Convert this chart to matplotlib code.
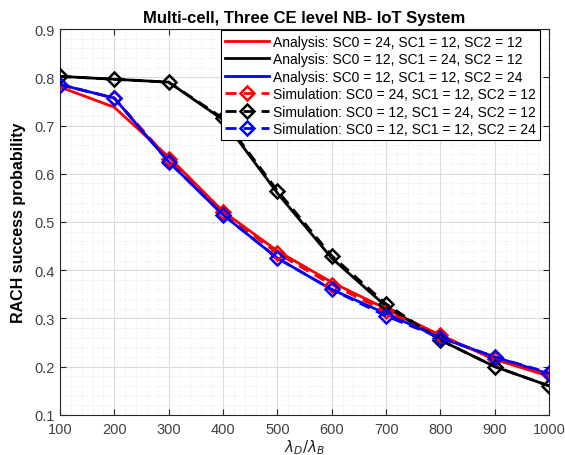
import matplotlib
matplotlib.use("Agg")
import matplotlib.pyplot as plt
from matplotlib.ticker import MultipleLocator, FuncFormatter

plt.rcParams['font.family'] = ['Liberation Sans', 'DejaVu Sans']

# data
ratio = [100, 200, 300, 400, 500, 600, 700, 800, 900, 1000]

ana_sc0 = [0.780, 0.738, 0.635, 0.522, 0.440, 0.375, 0.320, 0.265, 0.215, 0.180]
ana_sc1 = [0.802, 0.796, 0.790, 0.712, 0.560, 0.425, 0.325, 0.255, 0.200, 0.160]
ana_sc2 = [0.785, 0.757, 0.625, 0.515, 0.425, 0.360, 0.310, 0.260, 0.220, 0.185]

sim_sc0 = [0.785, 0.757, 0.630, 0.520, 0.435, 0.370, 0.315, 0.265, 0.215, 0.185]
sim_sc1 = [0.802, 0.796, 0.790, 0.715, 0.565, 0.430, 0.330, 0.255, 0.200, 0.160]
sim_sc2 = [0.785, 0.757, 0.625, 0.515, 0.425, 0.360, 0.305, 0.260, 0.220, 0.187]

labels_ana = ["Analysis: SC0 = 24, SC1 = 12, SC2 = 12",
              "Analysis: SC0 = 12, SC1 = 24, SC2 = 12",
              "Analysis: SC0 = 12, SC1 = 12, SC2 = 24"]
labels_sim = ["Simulation: SC0 = 24, SC1 = 12, SC2 = 12",
              "Simulation: SC0 = 12, SC1 = 24, SC2 = 12",
              "Simulation: SC0 = 12, SC1 = 12, SC2 = 24"]
colors = ["#ff0000", "#000000", "#0000ff"]

fig = plt.figure(figsize=(5.65, 4.56), dpi=100)
ax = fig.add_axes([0.106, 0.088, 0.866, 0.846])

for y, c, lab in zip([ana_sc0, ana_sc1, ana_sc2], colors, labels_ana):
    ax.plot(ratio, y, color=c, lw=2.0, label=lab, zorder=3)
for y, c, lab in zip([sim_sc0, sim_sc1, sim_sc2], colors, labels_sim):
    ax.plot(ratio, y, color=c, lw=2.0, ls=(0, (4, 2.5)), marker='D', markersize=7.5,
            markerfacecolor='none', markeredgewidth=1.8, label=lab, zorder=4)

ax.set_xlim(100, 1000)
ax.set_ylim(0.1, 0.9)
ax.xaxis.set_major_locator(MultipleLocator(100))
ax.xaxis.set_minor_locator(MultipleLocator(20))
ax.yaxis.set_major_locator(MultipleLocator(0.1))
ax.yaxis.set_minor_locator(MultipleLocator(0.02))
ax.yaxis.set_major_formatter(FuncFormatter(lambda v, p: f"{v:.1f}"))

ax.grid(which='major', color='#dcdcdc', lw=0.8)
ax.grid(which='minor', color='#e3e3e3', lw=0.6, ls=':')
ax.set_axisbelow(True)
ax.tick_params(which='both', direction='in', top=True, right=True, labelsize=10.5,
               labelcolor='#404040', color='#262626')
ax.tick_params(axis='x', pad=5)
ax.tick_params(which='minor', length=0)
ax.tick_params(which='major', length=4)
for s in ax.spines.values():
    s.set_color('#262626')
    s.set_linewidth(0.8)

ax.set_xlabel(r"$\lambda_D/\lambda_B$", fontsize=11, color='#262626', va='top')
ax.xaxis.set_label_coords(0.5, -0.058)
ax.set_ylabel("RACH success probability", fontsize=11.5, fontweight='bold', labelpad=6)
ax.set_title("Multi-cell, Three CE level NB- IoT System", fontsize=12, fontweight='bold', pad=5)

leg = ax.legend(loc='upper right', fontsize=10, frameon=True, fancybox=False,
                handlelength=3.2, handletextpad=0.3, borderpad=0.3, labelspacing=0.25,
                borderaxespad=0.1, bbox_to_anchor=(0.985, 1.0))
leg.get_frame().set_edgecolor('#000000')
leg.get_frame().set_linewidth(0.8)
leg.get_frame().set_alpha(1)

fig.savefig("out.png", dpi=100)
